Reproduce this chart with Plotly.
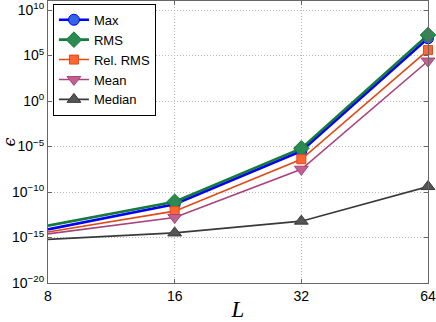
import plotly.graph_objects as go

# Error norms vs. L
L = [8, 16, 32, 64]
max_err = [7.9e-15, 4.5e-12, 3.2e-6, 7.9e6]
rms_err = [2.0e-14, 8.5e-12, 6.3e-6, 1.8e7]
rel_rms_err = [4.0e-15, 7.9e-13, 4.0e-7, 4.0e5]
mean_err = [2.5e-15, 1.6e-13, 3.2e-8, 2.5e4]
median_err = [6.3e-16, 3.2e-15, 6.3e-14, 4.0e-10]

y_tick_vals = [1e-20, 1e-15, 1e-10, 1e-5, 1e0, 1e5, 1e10]
y_tick_text = ['10<sup>\u221220</sup>', '10<sup>\u221215</sup>', '10<sup>\u221210</sup>',
               '10<sup>\u22125</sup>', '10<sup>0</sup>', '10<sup>5</sup>', '10<sup>10</sup>']

series = [
    ('Max', max_err, 'circle', '#0000ff', '#3563e6', 2.6, 11),
    ('RMS', rms_err, 'diamond', '#157a3c', '#2a8a50', 2.6, 12),
    ('Rel. RMS', rel_rms_err, 'square', '#e04a14', '#ff6633', 1.6, 9),
    ('Mean', mean_err, 'triangle-down', '#a8437c', '#c2608f', 1.6, 12),
    ('Median', median_err, 'triangle-up', '#3a3a3a', '#555555', 1.6, 12),
]

fig = go.Figure()
for name, vals, sym, lc, fc, lw, ms in series:
    fig.add_trace(go.Scatter(
        x=L, y=vals, name=name, mode='lines+markers',
        line=dict(color=lc, width=lw),
        marker=dict(symbol=sym, size=ms, color=fc, line=dict(color=lc, width=1)),
        cliponaxis=False,
    ))

axis_common = dict(
    showline=True, linecolor='#666666', linewidth=1, mirror='ticks',
    ticks='inside', ticklen=4, tickcolor='#666666',
    showgrid=True, gridcolor='#b8b8b8', griddash='1px,2px', gridwidth=1,
    zeroline=False, automargin=False,
    tickfont=dict(family='Liberation Sans, Arial', size=14, color='black'),
)

fig.update_layout(
    width=436, height=322,
    margin=dict(l=48, r=8, t=1, b=39),
    plot_bgcolor='white', paper_bgcolor='white',
    xaxis=dict(type='log', range=[0.90309, 1.80618], tickvals=L,
               ticktext=[str(v) for v in L],
               title=dict(text='<i>L</i>', standoff=2,
                          font=dict(family='Liberation Serif, DejaVu Serif', size=23, color='black')),
               **axis_common),
    yaxis=dict(type='log', range=[-20, 11], tickvals=y_tick_vals, ticktext=y_tick_text,
               title=dict(text='<i>\u03f5</i>', standoff=2,
                          font=dict(family='DejaVu Serif', size=16, color='black')),
               **axis_common),
    legend=dict(x=0.013, y=0.99, xanchor='left', yanchor='top',
                bgcolor='white', bordercolor='black', borderwidth=1,
                font=dict(family='Liberation Sans, Arial', size=13, color='black'),
                tracegroupgap=0, itemwidth=30),
    showlegend=True,
)

# remove the default page margin so the figure sits at the window origin
fig.write_html('out.html', config={'displayModeBar': False},
               post_script="document.body.style.margin='0';")
